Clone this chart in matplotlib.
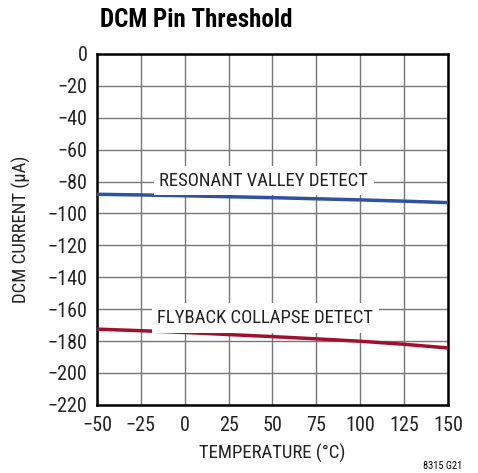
import numpy as np
import matplotlib.pyplot as plt

plt.rcParams['font.family'] = ['Roboto Condensed', 'DejaVu Sans']

# data
temp = [-50, -25, 0, 25, 50, 75, 100, 125, 150]
valley = [-88.0, -88.4, -88.9, -89.5, -90.1, -90.8, -91.5, -92.3, -93.2]
collapse = [-172.5, -173.5, -174.6, -175.9, -177.2, -178.6, -180.1, -182.0, -184.3]

fig = plt.figure(figsize=(4.78, 4.73), dpi=100)
ax = fig.add_axes([0.203, 0.144, 0.734, 0.742])

ax.plot(temp, valley, color='#3050a0', lw=2.5, zorder=3)
ax.plot(temp, collapse, color='#a0102e', lw=2.5, zorder=3)

ax.set_xlim(-50, 150)
ax.set_ylim(-220, 0)
ax.set_xticks(np.arange(-50, 151, 25))
ax.set_yticks(np.arange(-220, 1, 20))
ax.set_xticklabels([str(t).replace('-', '\u2212') for t in range(-50, 151, 25)])
ax.set_yticklabels([str(t).replace('-', '\u2212') for t in range(-220, 1, 20)])
ax.tick_params(length=0, labelsize=14.5, labelcolor='#222222')
ax.tick_params(axis='x', pad=8)
ax.tick_params(axis='y', pad=7)
ax.grid(True, color='#777777', lw=1)
for s in ax.spines.values():
    s.set_linewidth(1.8)

ax.set_xlabel('TEMPERATURE (°C)', fontsize=13.5, labelpad=6, color='#222222')
ax.set_ylabel('DCM CURRENT (µA)', fontsize=13.5, labelpad=12, color='#222222')

box = dict(facecolor='white', edgecolor='none', pad=4)
ax.text(45, -79.5, 'RESONANT VALLEY DETECT', ha='center', va='center',
        fontsize=13.5, color='#222222', bbox=box, zorder=4)
ax.text(46, -165.5, 'FLYBACK COLLAPSE DETECT', ha='center', va='center',
        fontsize=13.5, color='#222222', bbox=box, zorder=4)

fig.text(100 / 478, 1 - 20 / 473, 'DCM Pin Threshold', fontsize=18,
         fontweight='bold', ha='left', va='center')
fig.text(462 / 478, 1 - 466 / 473, '8315 G21', fontsize=7.5, ha='right', va='center')

plt.savefig('out.png')
